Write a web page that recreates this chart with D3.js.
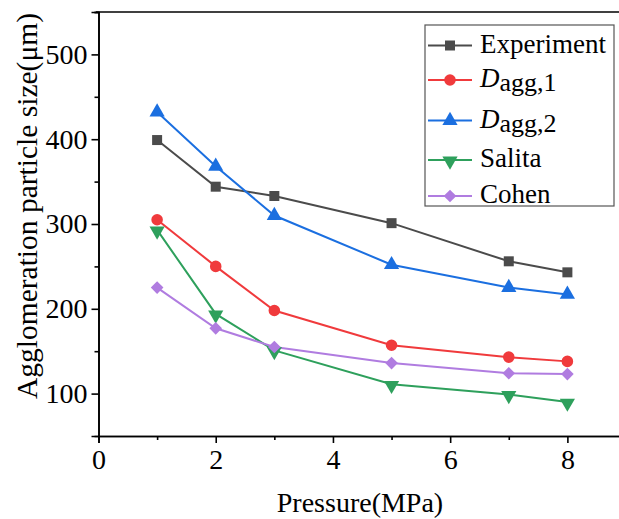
<!DOCTYPE html>
<html><head><meta charset="utf-8">
<script src="https://cdn.jsdelivr.net/npm/d3@7"></script>
<style>html,body{margin:0;padding:0;background:#fff;}svg{display:block;}</style>
</head><body>
<svg id="chart" width="619" height="519"></svg>
<script>
const pressure = [1, 2, 3, 5, 7, 8];
const experiment = [399, 344, 333, 301, 256, 243];
const dagg1 = [305, 250, 198, 157, 143, 138];
const dagg2 = [432, 368, 310, 252, 225, 217];
const salita = [293, 194, 151, 111, 99, 90];
const cohen = [225, 177, 155, 136, 124, 123];
const xTicks = [0, 2, 4, 6, 8];
const yTicks = [100, 200, 300, 400, 500];
const seriesNames = ["Experiment", "Dagg1", "Dagg2", "Salita", "Cohen"];

const series = [
  {name: "Experiment", values: experiment, color: "#4b4b4b", shape: "square"},
  {name: "Dagg1", values: dagg1, color: "#f03a3c", shape: "circle"},
  {name: "Dagg2", values: dagg2, color: "#1b6fe0", shape: "triangle"},
  {name: "Salita", values: salita, color: "#2ea05c", shape: "triangleDown"},
  {name: "Cohen", values: cohen, color: "#b07ce0", shape: "diamond"}
];

const svg = d3.select("#chart");
const font = "'Liberation Serif','Times New Roman',serif";
const x = d3.scaleLinear().domain([0, 9]).range([98.5, 626]);
const y = d3.scaleLinear().domain([50, 550]).range([436, 12]);

function symbolPath(shape) {
  switch (shape) {
    case "square": return d3.symbol().type(d3.symbolSquare).size(100)();
    case "circle": return d3.symbol().type(d3.symbolCircle).size(105)();
    case "triangle": return d3.symbol().type(d3.symbolTriangle).size(100)();
    case "triangleDown": return d3.symbol().type(d3.symbolTriangle).size(100)();
    case "diamond": return d3.symbol().type(d3.symbolSquare).size(80)();
  }
}
function symbolTransform(shape, px, py) {
  if (shape === "triangleDown") return `translate(${px},${py + 1}) rotate(180)`;
  if (shape === "diamond") return `translate(${px},${py}) rotate(45)`;
  return `translate(${px},${py})`;
}

// lines and markers
const line = d3.line().x((d, i) => x(pressure[i])).y(d => y(d));
series.forEach(s => {
  svg.append("path").attr("d", line(s.values)).attr("fill", "none")
    .attr("stroke", s.color).attr("stroke-width", 2);
});
series.forEach(s => {
  svg.append("g").selectAll("path").data(s.values).join("path")
    .attr("d", symbolPath(s.shape))
    .attr("transform", (d, i) => symbolTransform(s.shape, x(pressure[i]), y(d)))
    .attr("fill", s.color);
});

// axes
const xAxis = d3.axisBottom(x).tickValues(xTicks).tickSize(7).tickPadding(6).tickFormat(d3.format("d"));
const xMinor = d3.axisBottom(x).tickValues([1, 3, 5, 7]).tickSize(4).tickFormat("");
const yAxis = d3.axisLeft(y).tickValues(yTicks).tickSize(7).tickPadding(4).tickFormat(d3.format("d"));
const yMinor = d3.axisLeft(y).tickValues([150, 250, 350, 450, 550]).tickSize(4).tickFormat("");

function styleAxis(g) {
  g.select(".domain").attr("stroke", "#000").attr("stroke-width", 1.6);
  g.selectAll(".tick line").attr("stroke", "#000").attr("stroke-width", 1.6);
  g.selectAll("text").attr("font-family", font).attr("font-size", 28).attr("fill", "#000");
}
svg.append("g").attr("transform", "translate(0,436)").call(xMinor).call(styleAxis);
svg.append("g").attr("transform", "translate(0,436)").call(xAxis).call(styleAxis);
svg.append("g").attr("transform", "translate(98.5,0)").call(yMinor).call(styleAxis);
svg.append("g").attr("transform", "translate(98.5,0)").call(yAxis).call(styleAxis);

// top frame
svg.append("line").attr("x1", 96).attr("x2", 619).attr("y1", y(550)).attr("y2", y(550))
  .attr("stroke", "#000").attr("stroke-width", 1.6);

// axis titles
svg.append("text").attr("x", 360).attr("y", 512).attr("font-family", font).attr("font-size", 28)
  .attr("text-anchor", "middle").text("Pressure(MPa)");
svg.append("text").attr("transform", "translate(37,206) rotate(-90)").attr("text-anchor", "middle")
  .attr("font-family", font).attr("font-size", 29.5).text("Agglomeration particle size(μm)");

// legend
const lg = svg.append("g");
lg.append("rect").attr("x", 425).attr("y", 25).attr("width", 189).attr("height", 181)
  .attr("fill", "#fff").attr("stroke", "#555").attr("stroke-width", 1.2);
const rowY = [45.5, 80, 120.5, 160, 196];
series.forEach((s, i) => {
  const ry = rowY[i];
  lg.append("line").attr("x1", 428).attr("x2", 472).attr("y1", ry).attr("y2", ry)
    .attr("stroke", s.color).attr("stroke-width", 2);
  lg.append("path").attr("d", symbolPath(s.shape)).attr("transform", symbolTransform(s.shape, 450, ry)).attr("fill", s.color);
  const t = lg.append("text").attr("x", 480).attr("y", ry + 7).attr("font-family", font).attr("font-size", 27).attr("fill", "#000");
  if (s.name === "Dagg1" || s.name === "Dagg2") {
    t.append("tspan").attr("font-style", "italic").text("D");
    t.append("tspan").attr("dy", 4).attr("font-size", 26).text("agg," + (s.name === "Dagg1" ? "1" : "2"));
  } else {
    t.text(s.name);
  }
});
</script>
</body></html>
